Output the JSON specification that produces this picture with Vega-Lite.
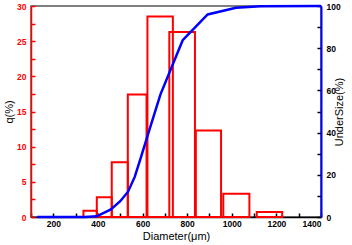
{
  "$schema": "https://vega.github.io/schema/vega-lite/v6.json",
  "width": 290,
  "height": 211,
  "autosize": "none",
  "padding": {"left": 31, "top": 6, "right": 31, "bottom": 28},
  "config": {
    "view": {"stroke": "#555555", "strokeWidth": 1.5},
    "font": "Liberation Sans",
    "axis": {"labelFont": "Liberation Sans", "titleFont": "Liberation Sans", "labelFontSize": 8.5, "labelFontWeight": "bold", "titleFontSize": 11, "titleFontWeight": "normal", "grid": false, "labelOverlap": false, "tickWidth": 1.5}
  },
  "datasets": {
    "bars": [
      {"x": 335, "xe": 395, "q": 0.9},
      {"x": 395, "xe": 462, "q": 2.8},
      {"x": 462, "xe": 534, "q": 7.8},
      {"x": 534, "xe": 618, "q": 17.4},
      {"x": 622, "xe": 736, "q": 28.5},
      {"x": 720, "xe": 835, "q": 26.3},
      {"x": 839, "xe": 952, "q": 12.3},
      {"x": 962, "xe": 1079, "q": 3.3},
      {"x": 1112, "xe": 1226, "q": 0.7}
    ],
    "cum": [
      {"x": 128, "u": 0},
      {"x": 340, "u": 0},
      {"x": 395, "u": 0.3},
      {"x": 458, "u": 3.6},
      {"x": 500, "u": 7.5},
      {"x": 535, "u": 12},
      {"x": 565, "u": 19},
      {"x": 592, "u": 28},
      {"x": 630, "u": 41},
      {"x": 680, "u": 58},
      {"x": 780, "u": 83.8},
      {"x": 892, "u": 96},
      {"x": 1019, "u": 99.2},
      {"x": 1130, "u": 99.9},
      {"x": 1400, "u": 100}
    ]
  },
  "encoding": {
    "x": {"field": "x", "type": "quantitative", "scale": {"domain": [100, 1400], "nice": false},
      "axis": {"title": "Diameter(μm)", "format": "d", "values": [100,200,300,400,500,600,700,800,900,1000,1100,1200,1300,1400],
        "labelExpr": "datum.value % 200 == 0 ? datum.label : ''", "domainColor": "#000000", "domainWidth": 1.5,
        "tickColor": "#000000", "tickSize": -4, "labelPadding": 6, "titlePadding": 3, "labelColor": "#000000", "titleColor": "#000000"}}
  },
  "layer": [
    {
      "data": {"name": "bars"},
      "mark": {"type": "rect", "fill": null, "fillOpacity": 0, "stroke": "#ff0000", "strokeWidth": 2},
      "encoding": {
        "x2": {"field": "xe"},
        "y": {"field": "q", "type": "quantitative", "scale": {"domain": [0, 30], "nice": false},
          "axis": {"title": "q(%)", "orient": "left", "values": [0,2.5,5,7.5,10,12.5,15,17.5,20,22.5,25,27.5,30],
            "labelExpr": "datum.value % 5 === 0 ? datum.label : ''", "domainColor": "#ff0000", "domainWidth": 1.5,
            "tickColor": "#ff0000", "tickSize": -4, "labelPadding": 9, "labelColor": "#ff0000", "titleColor": "#000000", "titlePadding": 2}},
        "y2": {"datum": 0}
      }
    },
    {
      "data": {"name": "cum"},
      "mark": {"type": "line", "color": "#0000ff", "strokeWidth": 2.5},
      "encoding": {
        "y": {"field": "u", "type": "quantitative", "scale": {"domain": [0, 100], "nice": false},
          "axis": {"title": "UnderSize(%)", "orient": "right", "values": [0,10,20,30,40,50,60,70,80,90,100],
            "labelExpr": "datum.value % 20 === 0 ? datum.label : ''", "domainColor": "#0000ff", "domainWidth": 2,
            "tickColor": "#000000", "tickSize": -4, "labelPadding": 9, "labelColor": "#000000", "titleColor": "#000000",
            "titleAngle": 270, "titlePadding": 4}}
      }
    }
  ],
  "resolve": {"scale": {"y": "independent"}}
}
